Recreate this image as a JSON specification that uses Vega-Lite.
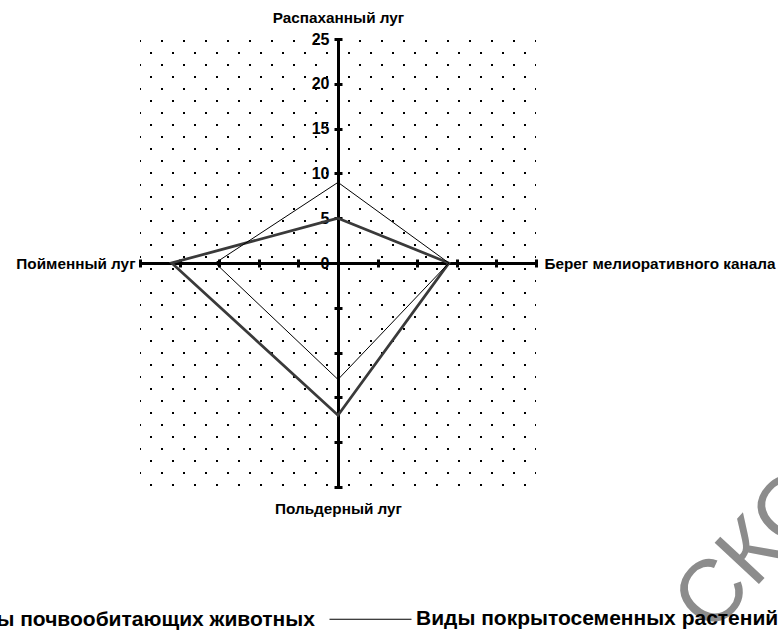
{
  "$schema": "https://vega.github.io/schema/vega-lite/v6.json",
  "width": 396,
  "height": 448,
  "autosize": {"type": "none"},
  "padding": {"left": 140, "top": 39, "right": 242, "bottom": 147},
  "background": "white",
  "config": {
    "view": {"stroke": null},
    "axis": {
      "labelFont": "Liberation Sans", "labelFontWeight": "bold", "labelFontSize": 16, "labelColor": "black",
      "titleFont": "Liberation Sans", "titleFontWeight": "bold", "titleFontSize": 15.3, "titleColor": "black",
      "domainColor": "black", "tickColor": "black"
    },
    "legend": {
      "orient": "none", "legendX": -274, "legendY": 538, "direction": "horizontal",
      "symbolType": "stroke", "symbolSize": 6724, "padding": 0,
      "labelFont": "Liberation Sans", "labelFontSize": 21, "labelFontWeight": "bold", "labelColor": "black",
      "labelLimit": 1000, "labelOffset": 4, "columnPadding": 12, "title": null
    }
  },
  "layer": [
    {
      "data": {"values": [{}]},
      "mark": {"type": "rule", "strokeOpacity": 0},
      "encoding": {
        "y": {
          "datum": 0, "type": "quantitative",
          "scale": {"domain": [-0.16667, 37.16667], "reverse": true, "nice": false, "zero": false},
          "axis": {
            "orient": "left", "title": null, "domain": false, "ticks": false, "labels": false, "translate": 0,
            "values": [0,1,2,3,4,5,6,7,8,9,10,11,12,13,14,15,16,17,18,19,20,21,22,23,24,25,26,27,28,29,30,31,32,33,34,35,36,37],
            "grid": true, "gridColor": "black", "gridOpacity": 1, "gridWidth": 2, "gridDash": [2, 20],
            "gridDashOffset": {"condition": {"test": "datum.value % 2 === 1", "value": 12}, "value": 1}
          }
        }
      }
    },
    {
      "data": {
        "values": [
          {"series": "Виды почвообитающих животных", "site": "Распаханный луг", "value": 5, "x": 0, "y": 5, "order": 1},
          {"series": "Виды почвообитающих животных", "site": "Берег мелиоративного канала", "value": 14, "x": 14, "y": 0, "order": 2},
          {"series": "Виды почвообитающих животных", "site": "Польдерный луг", "value": 17, "x": 0, "y": -17, "order": 3},
          {"series": "Виды почвообитающих животных", "site": "Пойменный луг", "value": 21, "x": -21, "y": 0, "order": 4},
          {"series": "Виды почвообитающих животных", "site": "Распаханный луг", "value": 5, "x": 0, "y": 5, "order": 5},
          {"series": "Виды покрытосеменных растений", "site": "Распаханный луг", "value": 9, "x": 0, "y": 9, "order": 1},
          {"series": "Виды покрытосеменных растений", "site": "Берег мелиоративного канала", "value": 14, "x": 14, "y": 0, "order": 2},
          {"series": "Виды покрытосеменных растений", "site": "Польдерный луг", "value": 13, "x": 0, "y": -13, "order": 3},
          {"series": "Виды покрытосеменных растений", "site": "Пойменный луг", "value": 15.5, "x": -15.5, "y": 0, "order": 4},
          {"series": "Виды покрытосеменных растений", "site": "Распаханный луг", "value": 9, "x": 0, "y": 9, "order": 5}
        ]
      },
      "resolve": {"axis": {"x": "independent", "y": "independent"}},
      "layer": [
        {
          "mark": {"type": "line", "strokeJoin": "miter"},
          "encoding": {
            "x": {
              "field": "x", "type": "quantitative",
              "scale": {"domain": [-25, 25], "nice": false, "zero": false},
              "axis": {
                "orient": "bottom", "offset": -228, "domain": false, "grid": false, "labels": false,
                "ticks": true, "tickSize": 8, "tickWidth": 3,
                "values": [-25,-20,-15,-10,-5,0,5,10,15,20,25],
                "title": "Берег мелиоративного канала", "titleX": 404, "titleY": 4,
                "titleAlign": "left", "titleBaseline": "middle", "titleAngle": 0
              }
            },
            "y": {
              "field": "y", "type": "quantitative",
              "scale": {"domain": [-25, 25], "nice": false, "zero": false},
              "axis": {
                "orient": "left", "offset": -202, "domain": false, "grid": false,
                "ticks": true, "tickSize": 8, "tickWidth": 3, "labelPadding": 5,
                "values": [-25,-20,-15,-10,-5,0,5,10,15,20,25],
                "labelExpr": "datum.value >= 0 ? datum.label : ''",
                "title": "Распаханный луг", "titleX": -4, "titleY": -22,
                "titleAlign": "center", "titleBaseline": "middle", "titleAngle": 0
              }
            },
            "order": {"field": "order", "type": "quantitative"},
            "color": {
              "field": "series", "type": "nominal",
              "scale": {"domain": ["Виды почвообитающих животных", "Виды покрытосеменных растений"], "range": ["#3a3a3a", "#000000"]}
            },
            "strokeWidth": {
              "field": "series", "type": "nominal",
              "scale": {"domain": ["Виды почвообитающих животных", "Виды покрытосеменных растений"], "range": [2.75, 1]}
            }
          }
        },
        {
          "data": {"values": [{"note": "СКОПИРОВАНО"}]},
          "mark": {"type": "text", "font": "Liberation Sans", "fontSize": 88, "angle": -47, "align": "left", "baseline": "alphabetic", "fill": "#8c8c8c", "zindex": 1},
          "encoding": {
            "text": {"field": "note"},
            "x": {
              "datum": 47.06, "type": "quantitative",
              "scale": {"domain": [-25, 25], "nice": false, "zero": false},
              "axis": {
                "orient": "bottom", "offset": -224, "domain": true, "domainWidth": 3, "ticks": false, "labels": false, "grid": false,
                "title": "Пойменный луг", "titleX": -5, "titleY": 0,
                "titleAlign": "right", "titleBaseline": "middle", "titleAngle": 0
              }
            },
            "y": {
              "datum": -41.6, "type": "quantitative",
              "scale": {"domain": [-25, 25], "nice": false, "zero": false},
              "axis": {
                "orient": "left", "offset": -198, "domain": true, "domainWidth": 3, "ticks": false, "labels": false, "grid": false,
                "title": "Польдерный луг", "titleX": 0, "titleY": 469,
                "titleAlign": "center", "titleBaseline": "middle", "titleAngle": 0
              }
            }
          }
        }
      ]
    }
  ],
  "resolve": {"scale": {"y": "independent"}}
}
